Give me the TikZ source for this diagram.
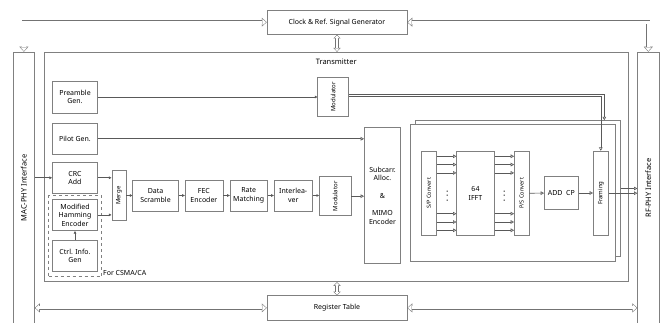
\documentclass[tikz,border=0pt]{standalone}
\usepackage{fontspec}
\setmainfont{Noto Sans}
\usepackage{graphicx}
\usepackage{tikz}
\usetikzlibrary{arrows.meta,positioning,calc}

\begin{document}
\begin{tikzpicture}[x=1pt, y=-1pt, >=Stealth,
  font=\fontsize{7}{8.5}\selectfont,
  blk/.style={draw=black!50, line width=0.5pt, fill=white, align=center, inner sep=0.5pt},
  sz/.style 2 args={minimum width=#1pt, minimum height=#2pt},
  bld/.style={font=\fontsize{6}{7}\selectfont\bfseries},
  rot/.style={font=\fontsize{5.6}{7}\selectfont},
  big/.style={font=\fontsize{7.5}{9}\selectfont},
  ln/.style={draw=black!65, line width=0.6pt},
  fa/.style={ln, -{Triangle[length=2.6pt,width=2.6pt]}},
  oa/.style={ln, -{Triangle[open,length=3.4pt,width=3.6pt]}},
  bus/.style={draw=white, line width=3.2pt, shorten >=0.75pt, shorten <=0.75pt,
    {Triangle[length=3.6pt,width=6.5pt,line width=0pt]}-{Triangle[length=3.6pt,width=6.5pt,line width=0pt]},
    preaction={draw=black!55, line width=4.2pt, shorten >=0pt, shorten <=0pt,
      {Triangle[length=5pt,width=9pt,line width=0pt]}-{Triangle[length=5pt,width=9pt,line width=0pt]}}},
  vbus/.style={draw=white, line width=2.6pt, shorten >=0.73pt, shorten <=0.73pt,
    {Triangle[length=2.6pt,width=4.9pt,line width=0pt]}-{Triangle[length=2.6pt,width=4.9pt,line width=0pt]},
    preaction={draw=black!55, line width=3.6pt, shorten >=0pt, shorten <=0pt,
      {Triangle[length=3.8pt,width=7.2pt,line width=0pt]}-{Triangle[length=3.8pt,width=7.2pt,line width=0pt]}}}
]
\useasboundingbox (0,0) rectangle (665,323);
\clip (0,0) rectangle (665,323);

\node[blk, sz={140}{24.5}] (clk) at (337,22.2) {Clock \& Ref. Signal Generator};
\node[blk, sz={140}{24.3}] (reg) at (337,307.9) {Register Table};
\node[blk, big, sz={21.2}{272}] (mac) at (23.9,188) {\rotatebox{90}{MAC-PHY Interface}};
\node[blk, big, sz={21.3}{272}] (rf) at (648.3,188) {\rotatebox{90}{RF-PHY Interface}};
\node[blk, sz={584.3}{229.7}] (tx) at (336.2,166.9) {};
\node[big, below=3.5pt of tx.north] (txl) {Transmitter};

\node[blk, sz={45.4}{32}] (pre) at (75,97) {Preamble\\Gen.};
\node[blk, sz={45.4}{31}] (pilot) at (75,138.8) {Pilot Gen.};
\node[blk, sz={45.4}{31}] (crc) at (75,177.8) {CRC\\Add};
\node[draw=black!50, dashed, line width=0.5pt, sz={53}{81}] (csma) at (75.2,236.2) {};
\node[blk, sz={45.4}{31.7}] (ham) at (75,214.9) {Modified\\Hamming\\Encoder};
\node[blk, sz={45.4}{30.3}] (ctrl) at (75,255.9) {Ctrl. Info.\\Gen};
\node[anchor=south west, inner sep=1pt] (csmal) at (csma.south east) {For CSMA/CA};

\node[blk, bld, sz={14.3}{50}] (merge) at (118.9,195.7) {\rotatebox{90}{Merge}};
\node[blk, sz={45.6}{31}] (scr) at (155.5,195.5) {Data\\Scramble};
\node[blk, sz={37.7}{31}] (fec) at (203.9,195.5) {FEC\\Encoder};
\node[blk, sz={37.3}{31}] (rate) at (248.7,195.5) {Rate\\Matching};
\node[blk, sz={38.3}{31}] (intl) at (293.2,195.5) {Interlea-\\ver};
\node[blk, bld, sz={31.7}{39}] (mod2) at (335.2,196.2) {\rotatebox{90}{Modulator}};
\node[blk, bld, sz={30.6}{39.7}] (mod1) at (333,96.8) {\rotatebox{90}{Modulator}};
\node[blk, sz={36.4}{135.6}] (sub) at (382.5,195.5) {Subcarr.\\Alloc.\\[9pt]\&\\[9pt]MIMO\\Encoder};

\node[blk, sz={205}{136}] (back) at (518.2,188.5) {};
\node[blk, sz={204.8}{136.5}] (ofdm) at (513.1,192.7) {};
\node[blk, rot, sz={15.7}{84.7}] (sp) at (428.8,193.3) {\rotatebox{90}{S/P Convert}};
\node[blk, sz={37.6}{84.7}] (ifft) at (475.5,193.3) {64\\IFFT};
\node[blk, rot, sz={14.7}{84.7}] (ps) at (521.7,193.3) {\rotatebox{90}{P/S Convert}};
\node[blk, sz={34}{32.6}] (cp) at (561.3,193) {ADD\ \ CP};
\node[blk, bld, sz={15}{84.3}] (frm) at (600.8,193.2) {\rotatebox{90}{Framing}};
\node[align=center, font=\fontsize{5}{4.8}\selectfont, inner sep=0pt] (dots1) at (447.3,196.7) {\textbullet\\\textbullet\\\textbullet};
\node[align=center, font=\fontsize{5}{4.8}\selectfont, inner sep=0pt] (dots2) at (504.3,196.7) {\textbullet\\\textbullet\\\textbullet};

\draw[bus] (clk.west) -| (mac.north);
\draw[bus] (clk.east) -| (rf.north);
\draw[bus] (mac.east |- reg.west) -- (reg.west);
\draw[bus] (reg.east) -- (rf.west |- reg.east);
\draw[vbus] (clk.south) -- (clk.south |- tx.north);
\draw[vbus] (reg.north |- tx.south) -- (reg.north);

\draw[fa] (mac.east |- crc.west) -- (crc.west);
\draw[fa] (pre.east) -- (pre.east -| mod1.west);
\draw[oa] (pilot.east) -- (pilot.east -| sub.west);
\draw[fa] (crc.east) -- (crc.east -| merge.west);
\draw[fa] (ham.east) -- (ham.east -| merge.west);
\draw[fa] (ctrl.north) -- (ham.south);
\draw[fa] (merge.east |- scr.west) -- (scr.west);
\draw[fa] (scr) -- (fec);
\draw[fa] (fec) -- (rate);
\draw[fa] (rate) -- (intl);
\draw[fa] (intl.east) -- (intl.east -| mod2.west);
\draw[oa] (mod2.east) -- (mod2.east -| sub.west);

\draw[oa] ([yshift=2.8pt]mod1.east) -| ([xshift=3.5pt]frm.north |- back.north);
\draw[oa] (mod1.east) -| (frm.north);

\foreach \dy in {-37,-28.7,-20.4,20.4,28.7,37} {
  \draw[oa] ([yshift=\dy pt]sp.east) -- ([yshift=\dy pt]ifft.west);
  \draw[oa] ([yshift=\dy pt]ifft.east) -- ([yshift=\dy pt]ps.west);
}
\draw[oa] (ps) -- (cp);
\draw[oa] (cp) -- (cp -| frm.west);
\draw[oa] (back.east) -- (back.east -| rf.west);
\draw[oa] (frm.east) -- (frm.east -| rf.west);
\end{tikzpicture}
\end{document}
